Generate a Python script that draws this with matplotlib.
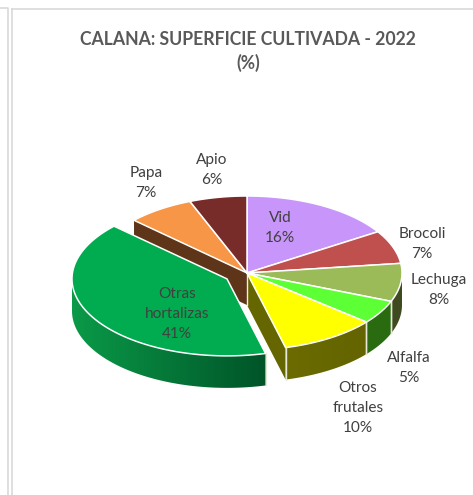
import numpy as np
import matplotlib
matplotlib.use("Agg")
import matplotlib.pyplot as plt
from matplotlib.colors import LinearSegmentedColormap
from matplotlib.patches import Polygon

plt.rcParams["font.family"] = ["Lato", "DejaVu Sans"]

## data
categorias = ["Vid", "Brocoli", "Lechuga", "Alfalfa", "Otros\nfrutales", "Otras\nhortalizas", "Papa", "Apio"]
valores = [16, 7, 8, 5, 10, 41, 7, 6]
colores = ["#c896fa", "#c0504d", "#9bbb59", "#5dff35", "#ffff00", "#00ac4f", "#f79646", "#772c2a"]
titulo = "CALANA: SUPERFICIE CULTIVADA - 2022\n(%)"

# geometria en pixeles de la imagen
cx, cy = 247, 273
rx, ry = 155, 77
prof = 32
explode = 0.15
pos_labels = [(280, 228), (422, 244), (439, 290), (409, 368), (358, 408), (177, 314), (146, 183), (212, 170)]


def punto(theta, dx=0, dy=0):
    t = np.radians(theta)
    return cx + dx + rx * np.sin(t), cy + dy - ry * np.cos(t)


def dibuja_rim(a, b, color1, color2, dx=0, dy=0):
    # pared exterior, solo la parte que mira hacia abajo
    a, b = max(a, 90), min(b, 270)
    if a >= b:
        return
    ts = np.linspace(a, b, 120)
    xs, ys = punto(ts, dx, dy)
    poly = Polygon(np.c_[np.r_[xs, xs[::-1]], np.r_[ys, ys[::-1] + prof]], closed=True, transform=ax.transData)
    cmap = LinearSegmentedColormap.from_list("rim", [color1, color2])
    im = ax.imshow(np.linspace(0, 1, 256)[None, :], cmap=cmap, aspect="auto", zorder=3, interpolation="bilinear",
                   extent=[xs.min(), xs.max(), ys.max() + prof, ys.min()])
    im.set_clip_path(poly)
    # filos claros donde termina la pared
    if ts[0] != 90:
        ax.plot([xs[0], xs[0]], [ys[0], ys[0] + prof], color="#e8e8d8", lw=1, zorder=4)
    if ts[-1] != 270:
        ax.plot([xs[-1], xs[-1]], [ys[-1], ys[-1] + prof], color="#e8e8d8", lw=1, zorder=4)


def dibuja_corte(theta, color, dx=0, dy=0):
    # cara interior del corte entre el centro y el borde
    x, y = punto(theta, dx, dy)
    ax.fill([cx + dx, x, x, cx + dx], [cy + dy, y, y + prof, cy + dy + prof], color=color, lw=0, zorder=2)


fig = plt.figure(figsize=(4.73, 4.95), dpi=100)
ax = fig.add_axes([0, 0, 1, 1])

# marco gris de la hoja
ax.plot([0, 8, 8], [8, 8, 495], color="#d9d9d9", lw=1.2)
ax.plot([12, 12], [495, 9], color="#d9d9d9", lw=1.2)
ax.plot([12, 473], [9, 9], color="#d9d9d9", lw=1.2)

ax.text(248, 51.5, titulo, ha="center", va="center", fontsize=12.7, fontweight="bold",
        color="#595959", linespacing=1.45)

limites = np.cumsum([0] + valores) * 3.6
i_otras = categorias.index("Otras\nhortalizas")
i_frut = categorias.index("Otros\nfrutales")
i_papa = categorias.index("Papa")

medio = (limites[i_otras] + limites[i_otras + 1]) / 2
off_x = explode * rx * np.sin(np.radians(medio))
off_y = -explode * ry * np.cos(np.radians(medio))

dibuja_corte(limites[i_papa], "#5f3519")
dibuja_corte(limites[i_frut + 1], "#666600")
ax.plot([cx, cx], [cy, cy + prof], color="#eeeeee", lw=1, zorder=2.5)

dibuja_rim(limites[2], limites[3], "#3f4a20", "#3f4a20")
dibuja_rim(limites[3], limites[4], "#2a6b10", "#2a6b10")
dibuja_rim(limites[4], limites[5], "#6b6b00", "#646400")
dibuja_rim(limites[5], limites[6], "#0a9a48", "#005428", off_x, off_y)

for i, color in enumerate(colores):
    dx, dy = (off_x, off_y) if i == i_otras else (0, 0)
    ts = np.linspace(limites[i], limites[i + 1], 100)
    xs, ys = punto(ts, dx, dy)
    ax.fill(np.r_[cx + dx, xs], np.r_[cy + dy, ys], facecolor=color, edgecolor="white", lw=1.1,
            joinstyle="round", zorder=5)

for nombre, v, (x, y) in zip(categorias, valores, pos_labels):
    ax.text(x, y, f"{nombre}\n{v}%", ha="center", va="center", fontsize=11.1, color="#404040",
            linespacing=1.56, zorder=6)

ax.set_xlim(0, 473)
ax.set_ylim(495, 0)
ax.axis("off")

fig.savefig("out.png", dpi=100)
